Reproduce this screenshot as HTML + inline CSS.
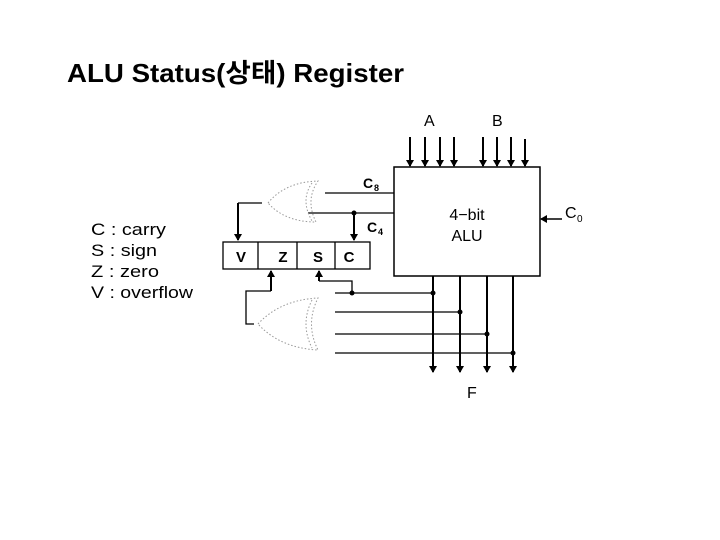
<!DOCTYPE html>
<html><head><meta charset="utf-8"><style>
html,body{margin:0;padding:0;background:#fff;}
svg{display:block}
text{font-family:"Liberation Sans","Noto Sans CJK KR",sans-serif;fill:#000}
</style></head><body>
<svg width="720" height="540" viewBox="0 0 720 540" xmlns="http://www.w3.org/2000/svg">
<defs><marker id="a" markerWidth="8" markerHeight="8" refX="6" refY="4" orient="auto" markerUnits="userSpaceOnUse"><path d="M0,0 L7,4 L0,8 z" fill="#000"/></marker></defs>
<text x="67" y="82" font-size="26" textLength="337" lengthAdjust="spacingAndGlyphs" font-weight="bold">ALU Status(상태) Register</text>
<text x="424" y="126" font-size="16">A</text>
<text x="492" y="126" font-size="16">B</text>
<g stroke="#000" stroke-width="2" marker-end="url(#a)">
<line x1="410" y1="137" x2="410" y2="166"/><line x1="425" y1="137" x2="425" y2="166"/><line x1="440" y1="137" x2="440" y2="166"/><line x1="454" y1="137" x2="454" y2="166"/>
<line x1="483" y1="137" x2="483" y2="166"/><line x1="497" y1="137" x2="497" y2="166"/><line x1="511" y1="137" x2="511" y2="166"/><line x1="525" y1="139" x2="525" y2="166"/>
</g>
<rect x="394" y="167" width="146" height="109" fill="none" stroke="#000" stroke-width="1.5"/>
<text x="467" y="220" font-size="16" text-anchor="middle">4−bit</text>
<text x="467" y="241" font-size="16" text-anchor="middle">ALU</text>
<line x1="562" y1="219" x2="541" y2="219" stroke="#000" stroke-width="1.5" marker-end="url(#a)"/>
<text x="565" y="218" font-size="16">C</text><text x="577" y="222" font-size="10">0</text>
<text x="363" y="188" font-size="14" font-weight="bold">C</text><text x="374" y="191" font-size="9" font-weight="bold">8</text>
<text x="367" y="232" font-size="14" font-weight="bold">C</text><text x="378" y="235" font-size="9" font-weight="bold">4</text>
<g stroke="#000" stroke-width="1.3">
<line x1="325" y1="193" x2="394" y2="193"/>
<line x1="308" y1="213" x2="394" y2="213"/>
<line x1="238" y1="203" x2="262" y2="203"/>
</g>
<g stroke="#000" stroke-width="2">
<line x1="354" y1="213" x2="354" y2="240" marker-end="url(#a)"/>
<line x1="238" y1="203" x2="238" y2="240" marker-end="url(#a)"/>
</g>
<circle cx="354" cy="213" r="2.5" fill="#000"/>
<g fill="none" stroke="#999" stroke-width="1" stroke-dasharray="1.5,2">
<path d="M268,203 Q285,182 318,181 Q305,200 316,222 Q285,222 268,203"/>
<path d="M312,183 Q300,200 312,221"/>
<path d="M258,324 Q280,300 318,298 Q305,324 318,350 Q280,348 258,324"/>
<path d="M312,300 Q300,324 312,348"/>
</g>
<rect x="223" y="242" width="147" height="27" fill="none" stroke="#000" stroke-width="1.3"/>
<g stroke="#000" stroke-width="1.3"><line x1="258" y1="242" x2="258" y2="269"/><line x1="297" y1="242" x2="297" y2="269"/><line x1="335" y1="242" x2="335" y2="269"/></g>
<g font-size="15" font-weight="bold" text-anchor="middle">
<text x="241" y="262">V</text><text x="283" y="262">Z</text><text x="318" y="262">S</text><text x="349" y="262">C</text></g>
<g stroke="#000" stroke-width="1.3">
<line x1="335" y1="293" x2="433" y2="293"/><line x1="335" y1="312" x2="460" y2="312"/>
<line x1="335" y1="334" x2="487" y2="334"/><line x1="335" y1="353" x2="513" y2="353"/>
<polyline points="352,293 352,281 319,281" fill="none"/>
<polyline points="254,324 246,324 246,291 271,291" fill="none"/>
</g>
<g stroke="#000" stroke-width="2">
<line x1="319" y1="281" x2="319" y2="271" marker-end="url(#a)"/>
<line x1="271" y1="291" x2="271" y2="271" marker-end="url(#a)"/>
<line x1="433" y1="276" x2="433" y2="372" marker-end="url(#a)"/>
<line x1="460" y1="276" x2="460" y2="372" marker-end="url(#a)"/>
<line x1="487" y1="276" x2="487" y2="372" marker-end="url(#a)"/>
<line x1="513" y1="276" x2="513" y2="372" marker-end="url(#a)"/>
</g>
<g fill="#000"><circle cx="352" cy="293" r="2.5"/><circle cx="433" cy="293" r="2.5"/><circle cx="460" cy="312" r="2.5"/><circle cx="487" cy="334" r="2.5"/><circle cx="513" cy="353" r="2.5"/></g>
<text x="467" y="398" font-size="16">F</text>
<g font-size="17">
<text x="91" y="235" textLength="75" lengthAdjust="spacingAndGlyphs">C : carry</text>
<text x="91" y="256" textLength="66" lengthAdjust="spacingAndGlyphs">S : sign</text>
<text x="91" y="277" textLength="68" lengthAdjust="spacingAndGlyphs">Z : zero</text>
<text x="91" y="298" textLength="102" lengthAdjust="spacingAndGlyphs">V : overflow</text>
</g>
</svg>
</body></html>
